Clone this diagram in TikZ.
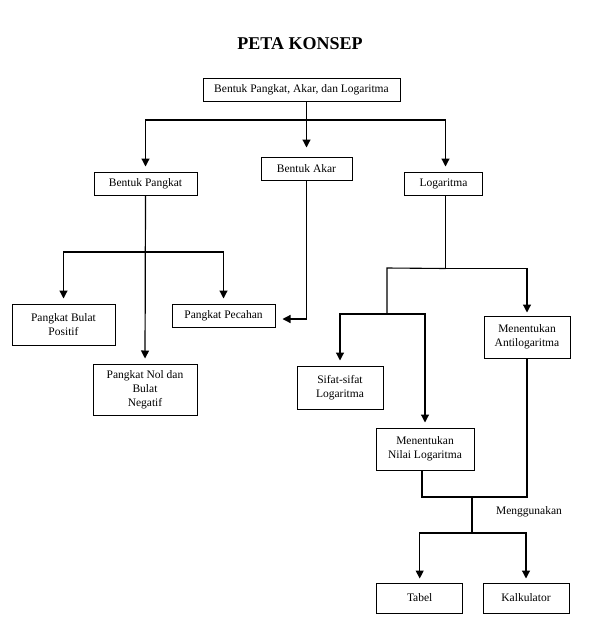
\documentclass[tikz,border=0pt]{standalone}
\usepackage{fontspec}
\setmainfont{Liberation Serif}
\usetikzlibrary{positioning, calc, arrows.meta}
\tikzset{
  flow/.style={-{Triangle[length=8pt, width=8pt]}, draw=black, line width=1.2pt, shorten >= 5pt},
  link/.style={-, draw=black, line width=1.1pt},
  concept/.style={draw=black, line width=1pt, align=center, inner sep=0,
    font=\fontsize{11.5}{14}\selectfont},
  every node/.style={inner sep=0}
}

\begin{document}
\begin{tikzpicture}[x=1pt, y=-1pt]
    \useasboundingbox (0,0) rectangle (611,640);
    \node[font=\fontsize{18}{20}\selectfont\bfseries] (title) at (300,44) {PETA KONSEP};
    \node[concept, minimum width=197, minimum height=23] (root) at (301.5,89.5) {Bentuk Pangkat, Akar, dan Logaritma};
    \node[concept, minimum width=91, minimum height=23] (akar) at (306.5,168.5) {Bentuk Akar};
    \node[concept, minimum width=103, minimum height=23] (pangkat) at (145.5,183.5) {Bentuk Pangkat};
    \node[concept, minimum width=78, minimum height=23] (log) at (443.5,183.5) {Logaritma};
    % level 1
    \coordinate (j1) at (306,120);
    \draw[flow, shorten >= 9pt] (root.south -| akar.north) -- (akar.north);
    \draw[flow] (j1) -| (pangkat.north);
    \draw[flow] (j1) -| ([xshift=2pt]log.north);
    % bentuk pangkat
    \node[concept, minimum width=103, minimum height=41] (bulat) at (63.5,324.5) {Pangkat Bulat\\Positif};
    \node[concept, minimum width=103, minimum height=23] (pecahan) at (223.5,315.5) {Pangkat Pecahan};
    \node[concept, minimum width=104, minimum height=51] (nol) at (145,389.5) {Pangkat Nol dan\\Bulat\\Negatif};
    \coordinate (j2) at (145.5,252);
    \draw[flow] (pangkat.south) -- (nol.north);
    \draw[flow] (j2) -| (bulat.north);
    \draw[flow] (j2) -| (pecahan.north);
    % bentuk akar
    \draw[flow, shorten >= 7pt] (akar.south) |- ([yshift=-3.5pt]pecahan.east);
    % logaritma
    \node[concept, minimum width=86, minimum height=42] (antilog) at (527,337) {Menentukan\\Antilogaritma};
    \node[concept, minimum width=86, minimum height=43] (sifat) at (340,387.5) {Sifat-sifat\\Logaritma};
    \node[concept, minimum width=98, minimum height=42] (nilai) at (425,449) {Menentukan\\Nilai Logaritma};
    \path ([xshift=2pt]log.south) ++(0,73) coordinate (j3);
    \coordinate (j4) at (387,268);
    \coordinate (j5) at (387,314);
    \draw[link] ([xshift=2pt]log.south) -- (j3);
    \draw[link] (j3) -- (j4) -- (j5);
    \draw[flow, shorten >= 3pt] (j3) -| (antilog.north);
    \draw[flow] (j5) -| (sifat.north);
    \draw[flow] (j5) -| (nilai.north);
    % menggunakan
    \node[concept, minimum width=86, minimum height=30] (tabel) at (419.7,598) {Tabel};
    \node[concept, minimum width=86, minimum height=30] (kalk) at (526,598) {Kalkulator};
    \node[font=\fontsize{11.5}{14}\selectfont] (pakai) at (529,512) {Menggunakan};
    \coordinate (j6) at (472,497);
    \coordinate (j7) at (472,533);
    \draw[link] ([xshift=-3pt]nilai.south) |- (j6) -| (antilog.south);
    \draw[link] (j6) -- (j7);
    \draw[flow, shorten >= 4pt] (j7) -| (tabel.north);
    \draw[flow, shorten >= 4pt] (j7) -| (kalk.north);
\end{tikzpicture}
\end{document}
